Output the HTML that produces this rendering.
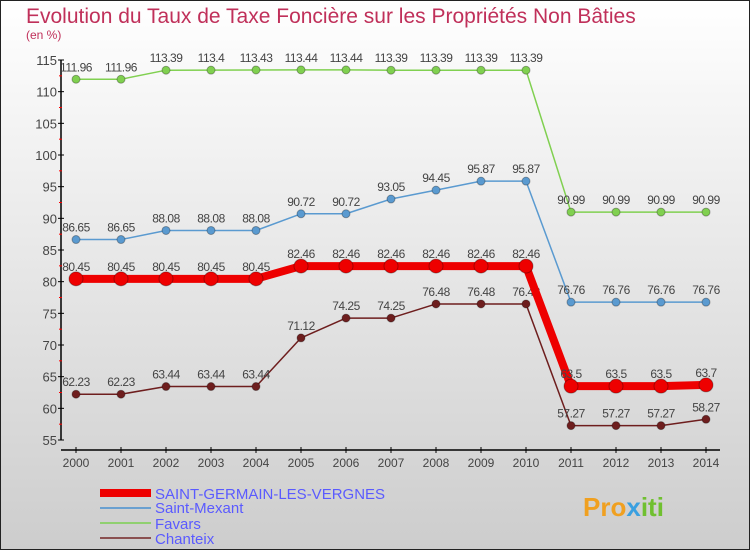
<!DOCTYPE html>
<html><head><meta charset="utf-8"><style>
body{margin:0}
#c{width:750px;height:550px;position:relative;overflow:hidden;font-family:"Liberation Sans",sans-serif}
</style></head><body>
<div id="c">
<svg id="s" width="750" height="550" xmlns="http://www.w3.org/2000/svg">
<defs><linearGradient id="bg" x1="0" y1="0" x2="0" y2="1"><stop offset="0" stop-color="#ffffff"/><stop offset="1" stop-color="#cdcdcd"/></linearGradient></defs>
<rect x="0.5" y="0.5" width="749" height="549" fill="url(#bg)" stroke="#222"/>
<text x="26" y="23" font-size="21" fill="#c0305a">Evolution du Taux de Taxe Foncière sur les Propriétés Non Bâties</text>
<text x="26" y="39" font-size="12" fill="#c0305a">(en %)</text>
<g id="axes"></g><g id="series"></g>
<g>
<rect x="100" y="489" width="51" height="8" fill="#e00"/>
<text x="155" y="499" font-size="15" fill="#5a5aff">SAINT-GERMAIN-LES-VERGNES</text>
<rect x="100" y="507" width="51" height="2" fill="#6aa0d0"/>
<text x="155" y="513" font-size="15" fill="#5a5aff">Saint-Mexant</text>
<rect x="100" y="522" width="51" height="2" fill="#90d070"/>
<text x="155" y="529" font-size="15" fill="#5a5aff">Favars</text>
<rect x="100" y="537" width="51" height="2" fill="#8a5050"/>
<text x="155" y="544" font-size="15" fill="#5a5aff">Chanteix</text>
</g>
<g><text x="583" y="516" font-size="26" font-weight="bold" fill="#f0a020">Pro<tspan fill="#3aa0e0">x</tspan><tspan fill="#70c030">iti</tspan></text></g>
</svg></div>
<script>
const years=[2000,2001,2002,2003,2004,2005,2006,2007,2008,2009,2010,2011,2012,2013,2014];
const yTicks=[55,60,65,70,75,80,85,90,95,100,105,110,115];
const sgv=[80.45,80.45,80.45,80.45,80.45,82.46,82.46,82.46,82.46,82.46,82.46,63.5,63.5,63.5,63.7];
const mexant=[86.65,86.65,88.08,88.08,88.08,90.72,90.72,93.05,94.45,95.87,95.87,76.76,76.76,76.76,76.76];
const favars=[111.96,111.96,113.39,113.4,113.43,113.44,113.44,113.39,113.39,113.39,113.39,90.99,90.99,90.99,90.99];
const chanteix=[62.23,62.23,63.44,63.44,63.44,71.12,74.25,74.25,76.48,76.48,76.48,57.27,57.27,57.27,58.27];
const NS="http://www.w3.org/2000/svg";
const X=i=>76+i*45, Y=v=>440-(v-55)*(380/60);
function mk(t,a,p){const e=document.createElementNS(NS,t);for(const k in a)e.setAttribute(k,a[k]);p.appendChild(e);return e;}
const ax=document.getElementById('axes');
const yl=mk('line',{x1:61,y1:60,x2:61,y2:440,stroke:'#000','stroke-width':1.5},ax);


const xl=mk('line',{x1:61,y1:450,x2:720,y2:450,stroke:'#000','stroke-width':1.5},ax);


yTicks.forEach(v=>{
 mk('line',{x1:58,y1:Y(v),x2:64,y2:Y(v),stroke:'#000'},ax);
 if(v<115)mk('line',{x1:59,y1:Y(v+2.5),x2:62,y2:Y(v+2.5),stroke:'#f00'},ax);
 const t=mk('text',{x:57,y:Y(v)+5,'font-size':13,'text-anchor':'end',fill:'#444'},ax);
 
 
 t.textContent=v;
});
years.forEach((y,i)=>{
 mk('line',{x1:X(i),y1:447,x2:X(i),y2:453,stroke:'#000'},ax);
 const t=mk('text',{x:X(i),y:467,'font-size':12,'text-anchor':'middle',fill:'#444'},ax);
 
 
 t.textContent=y;
});
const sg=document.getElementById('series');
function draw(vals,color,w,r,name){
 const g=mk('g',{},sg);
 
 
 mk('polyline',{points:vals.map((v,i)=>X(i)+','+Y(v)).join(' '),fill:'none',stroke:color,'stroke-width':w,'stroke-linejoin':'round'},g);
 vals.forEach((v,i)=>{
  const c=mk('circle',{cx:X(i),cy:Y(v),r:r,fill:color,stroke:'rgba(0,0,0,0.3)'},g);
  
  
  const t=mk('text',{x:X(i),y:Y(v)-8,'font-size':12,'text-anchor':'middle',fill:'#444','letter-spacing':'-0.5'},g);
  
  
  t.textContent=v;
 });
}
draw(chanteix,'#6e1e1e',1.5,4,'series-chanteix');
draw(mexant,'#5a9ad0',1.5,4,'series-saint-mexant');
draw(favars,'#80d050',1.5,4,'series-favars');
draw(sgv,'#ee0000',8,7,'series-saint-germain');
</script>
</body></html>
